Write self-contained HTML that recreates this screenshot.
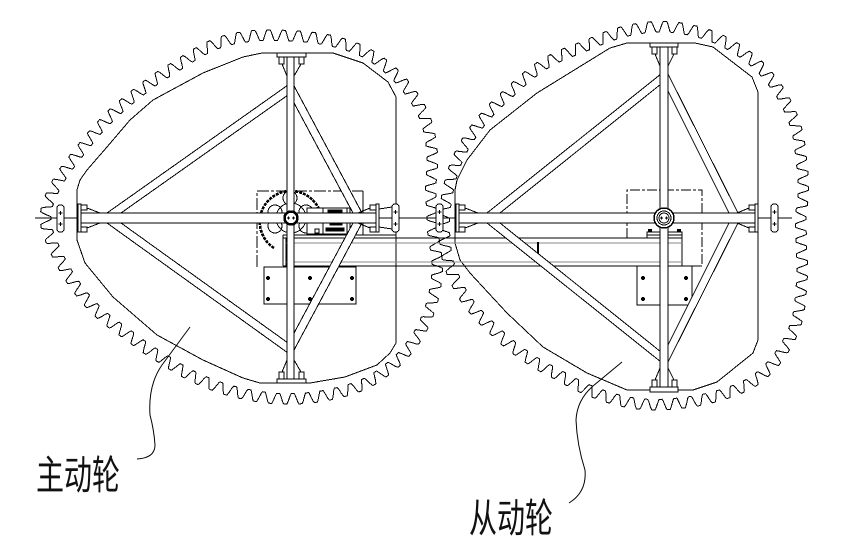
<!DOCTYPE html>
<html><head><meta charset="utf-8"><style>
html,body{margin:0;padding:0;background:#fff;}
svg{display:block;}
</style></head><body>
<svg id="s" width="855" height="550" viewBox="0 0 855 550" xmlns="http://www.w3.org/2000/svg" shape-rendering="crispEdges">
<rect width="855" height="550" fill="#fff"/>
<g fill="none" stroke="#000" stroke-width="1">
 <!-- gear teeth -->
 <path id="g1"/>
 <path id="g2"/>
 <!-- inner plates -->
 <path d="M262,53 L333,53 L363,63 L388,82 L396,97 L396,343 L390,353 L377,365 L345,377 L310,383 L260,383 L243,378 L203,360 L157,335 L113,297 L85,263 L77,240 L77,190 L80,180 L87,170 L107,147 L130,120 L153,100 L203,73 L243,57 Z"/>
 <path d="M627,43 L695,43 L713,47 L752,77 L758,92 L758,340 L753,353 L717,382 L693,390 L627,390 L587,373 L543,347 L507,313 L470,273 L460,260 L455,243 L455,190 L457,180 L467,160 L490,130 L537,93 L610,48 Z"/>
 <!-- center line -->
 <line x1="35" y1="218" x2="792" y2="218"/>
 <!-- channel beam -->
 <path d="M283,235 H396 M283,238 H682 M283,266 H682 M283,235 V266 M286,238 V266 M682,238 V266"/>
 <path stroke="#8a8a8a" d="M286,243 H682 M286,262 H682"/>
 <line x1="538" y1="242" x2="538" y2="262" stroke-width="2"/>
 <!-- left motor box -->
 <path d="M257,267 V191 H363" stroke-dasharray="12,2,3,2"/>
 <line x1="363" y1="191" x2="363" y2="235"/>
 <path d="M274,248 A31,31 0 1 1 321,229" stroke-width="2.6" stroke-dasharray="3,1"/>
 <circle cx="291" cy="218" r="15"/>
 <circle cx="290" cy="198" r="7"/>
 <circle cx="275" cy="212" r="7"/>
 <circle cx="306" cy="212" r="7"/>
 <circle cx="275" cy="226" r="7"/>
 <circle cx="306" cy="226" r="7"/>
 <rect x="307" y="208" width="43" height="26" fill="#fff"/>
 <rect x="323" y="208" width="24" height="26"/>
 <rect x="328" y="210" width="14" height="4" fill="#000"/>
 <rect x="330" y="222" width="12" height="3" fill="#000"/>
 <rect x="326" y="228" width="18" height="3" fill="#000"/>
 <rect x="315" y="229" width="4" height="4"/>
 <!-- left plate -->
 <rect x="264" y="267" width="92" height="37"/>
 <!-- right motor box -->
 <path d="M627,238 V190 H702 V266" stroke-dasharray="10,2,3,2"/>
 <path d="M682,266 H702"/>
 <rect x="647" y="232" width="35" height="6" fill="#fff"/>
 <line x1="647" y1="235" x2="682" y2="235"/>
 <!-- right plate -->
 <rect x="637" y="266" width="55" height="39"/>
</g>
<g fill="#000" stroke="none">
 <circle cx="268" cy="278" r="2"/><circle cx="310" cy="278" r="2"/><circle cx="352" cy="278" r="2"/>
 <circle cx="268" cy="299" r="2"/><circle cx="310" cy="299" r="2"/><circle cx="352" cy="299" r="2"/>
 <circle cx="643" cy="278" r="2"/><circle cx="686" cy="278" r="2"/>
 <circle cx="643" cy="299" r="2"/><circle cx="686" cy="299" r="2"/>
 <rect x="648" y="229" width="4" height="3"/><rect x="677" y="229" width="4" height="3"/>
</g>
<g fill="#fff" stroke="#000" stroke-width="1">
 <!-- braces left gear -->
 <polygon points="107,213 288,85 288,95 121,213"/>
 <polygon points="107,223 288,353 288,343 121,223"/>
 <polygon points="293,84 362,213 353,213 293,101"/>
 <polygon points="362,223 293,352 293,335 353,223"/>
 <!-- braces right gear -->
 <polygon points="487,213 661,74 661,84 500,213"/>
 <polygon points="487,223 661,362 661,352 500,223"/>
 <polygon points="667,72 738,213 729,213 667,89"/>
 <polygon points="738,223 667,364 667,347 729,223"/>

 <!-- left gear beams -->
 <rect x="81" y="213" width="295" height="10"/>
 <rect x="287" y="57" width="7" height="322"/>
 <rect x="277" y="53" width="29" height="4"/>
 <rect x="277" y="379" width="29" height="4"/>
 <rect x="78" y="204" width="3" height="28"/>
 <rect x="376" y="204" width="3" height="28"/>
 <rect x="279" y="57" width="5" height="7"/><rect x="299" y="57" width="5" height="7"/>
 <rect x="279" y="372" width="5" height="7"/><rect x="299" y="372" width="5" height="7"/>
 <rect x="81" y="205" width="6" height="5"/><rect x="81" y="227" width="6" height="5"/>
 <rect x="370" y="205" width="6" height="5"/><rect x="370" y="227" width="6" height="5"/>

 <!-- right gear beams -->
 <rect x="459" y="213" width="296" height="10"/>
 <rect x="660" y="47" width="8" height="340"/>
 <rect x="650" y="43" width="28" height="4"/>
 <rect x="650" y="387" width="28" height="5"/>
 <rect x="456" y="204" width="3" height="28"/>
 <rect x="755" y="204" width="3" height="28"/>
 <rect x="652" y="47" width="5" height="7"/><rect x="672" y="47" width="5" height="7"/>
 <rect x="652" y="380" width="5" height="7"/><rect x="672" y="380" width="5" height="7"/>
 <rect x="459" y="205" width="6" height="5"/><rect x="459" y="227" width="6" height="5"/>
 <rect x="749" y="205" width="6" height="5"/><rect x="749" y="227" width="6" height="5"/>

 <!-- couplings -->
 <rect x="57" y="205" width="7" height="27" rx="3"/>
 <rect x="392" y="204" width="7" height="28" rx="3"/>
 <rect x="436" y="204" width="7" height="28" rx="3"/>
 <rect x="771" y="204" width="7" height="28" rx="3"/>

 <!-- hubs -->
 <circle cx="291" cy="218" r="6.5" stroke-width="2.5"/>
 <circle cx="664" cy="218" r="10" stroke-width="1.5"/>
 <circle cx="664" cy="218" r="7"/>
 <circle cx="664" cy="218" r="5"/>
</g>
<g fill="none" stroke="#000" stroke-width="1">
 <!-- gussets -->
 <path d="M282,64 L287,76 M301,64 L294,76 M282,372 L287,360 M301,372 L294,360"/>
 <path d="M655,54 L660,66 M674,54 L668,66 M655,380 L660,368 M674,380 L668,368"/>
 <path d="M87,208 L100,213 M87,228 L100,223 M370,208 L358,213 M370,228 L358,223"/>
 <path d="M465,208 L478,213 M465,228 L478,223 M749,208 L737,213 M749,228 L737,223"/>
 <path d="M379,209 L392,207 M379,227 L392,229"/>
 <!-- plus marks -->
 <path d="M58.5,213 h4 M60.5,211 v4 M58.5,224 h4 M60.5,222 v4"/>
 <path d="M393.5,212 h4 M395.5,210 v4 M393.5,224 h4 M395.5,222 v4"/>
 <path d="M437.5,212 h4 M439.5,210 v4 M437.5,224 h4 M439.5,222 v4"/>
 <path d="M772.5,212 h4 M774.5,210 v4 M772.5,224 h4 M774.5,222 v4"/>
 <path d="M287,218 h3 M288.5,216.5 v3 M292,218 h3 M293.5,216.5 v3"/>
 <path d="M660,218 h3 M661.5,216.5 v3 M665,218 h3 M666.5,216.5 v3"/>
 <!-- leaders -->
 <path shape-rendering="auto" d="M137,459 Q155,458 155,445 Q154,430 150,415 Q148,385 162,365 L190,327"/>
 <path shape-rendering="auto" d="M569,503 Q587,492 585,470 Q577,445 576,420 Q577,400 593,386 L622,362"/>
</g>
<g font-family="'Liberation Sans','Noto Sans CJK SC',sans-serif" font-size="40" fill="#111">
 <text x="36" y="489" textLength="84" lengthAdjust="spacingAndGlyphs">主动轮</text>
 <text x="469" y="532" textLength="84" lengthAdjust="spacingAndGlyphs">从动轮</text>
</g>
</svg>
<script>
function interp(tab,deg){
  deg=((deg%360)+360)%360;
  for(var i=0;i<tab.length-1;i++){
    var a=tab[i][0],ra=tab[i][1],b=tab[i+1][0],rb=tab[i+1][1];
    if(deg>=a&&deg<=b){return ra+(rb-ra)*(deg-a)/(b-a);}
  }
  return tab[0][1];
}
function prof(u){
  var g=(0.8-u)/0.6; if(g<0)g=0; if(g>1)g=1;
  var sm=g*g*(3-2*g);
  return 0.5*g+0.5*sm;
}
function gear(cx,cy,tab,pitchLen,h,phase0){
  var N=1440,r=[],i,k;
  for(i=0;i<N;i++) r.push(interp(tab,i*360/N));
  var W=14,rs=[];
  for(i=0;i<N;i++){var s=0;for(k=-W;k<=W;k++) s+=r[(i+k+N)%N]; rs.push(s/(2*W+1));}
  var P=[];
  for(i=0;i<N;i++){var t=i*2*Math.PI/N,rr=rs[i]-h/2;P.push([cx+rr*Math.cos(t),cy-rr*Math.sin(t)]);}
  var cum=[0];
  for(i=1;i<=N;i++){var A=P[i-1],B=P[i%N];cum.push(cum[i-1]+Math.hypot(B[0]-A[0],B[1]-A[1]));}
  var L=cum[N],nT=Math.round(L/pitchLen),S=30,M=nT*S,d='',j=0;
  for(var m=0;m<M;m++){
    var sv=m*L/M;
    while(cum[j+1]<sv) j++;
    var f=(sv-cum[j])/(cum[j+1]-cum[j]);
    var a=P[j],b=P[(j+1)%N];
    var x=a[0]+(b[0]-a[0])*f,y=a[1]+(b[1]-a[1])*f;
    var p0=P[(j-3+N)%N],p1=P[(j+4)%N];
    var tx=p1[0]-p0[0],ty=p1[1]-p0[1],tl=Math.hypot(tx,ty);tx/=tl;ty/=tl;
    var nx=ty,ny=-tx;
    if(nx*(x-cx)+ny*(y-cy)<0){nx=-nx;ny=-ny;}
    var ph=((m/S)+phase0)%1;
    var u=Math.abs(ph-0.5)*2;
    var g=prof(u);
    var off=h*(g-0.5);
    d+=(m?'L':'M')+(x+nx*off).toFixed(1)+','+(y+ny*off).toFixed(1);
  }
  return d+'Z';
}
var t1=[[0,146],[12,147],[26,162],[37,173],[47,179],[57,184],[66,187],[78,187],[90,187],[112,195],[127,195],[141,203],[153,215],[163,227],[172,243],[180,253],[188,243],[196,233],[206,220],[215,206],[228,195],[243,190],[256,187],[270,186],[282,186],[295,187],[308,183],[318,178],[330,169],[341,160],[353,148],[360,146]];
var t2=[[0,141],[23,154],[35,166],[48,177],[60,186],[74,193],[90,197],[102,196],[115,194],[127,200],[141,204],[152,212],[162,219],[169,222],[180,225],[191,226],[202,220],[212,210],[223,202],[236,194],[249,193],[262,193],[274,191],[286,191],[299,192],[309,186],[321,175],[333,159],[348,145],[360,141]];
document.getElementById('g1').setAttribute('d',gear(291,218,t1,14.8,10.5,0));
document.getElementById('g2').setAttribute('d',gear(664,218,t2,14.8,10.5,0.5));
</script>
</body></html>
